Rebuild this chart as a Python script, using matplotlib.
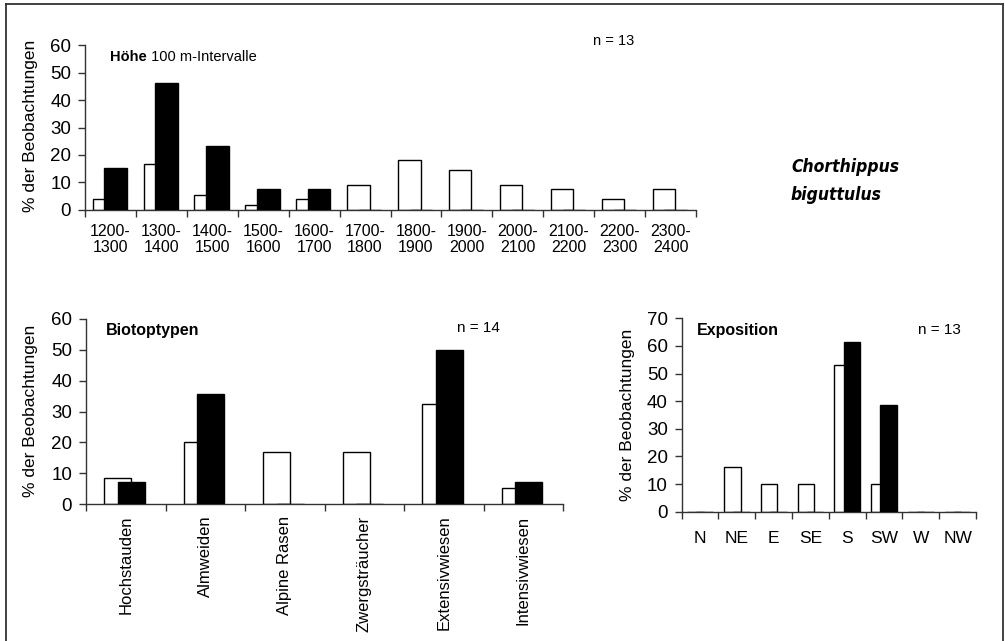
import numpy as np
import matplotlib
matplotlib.use('Agg')
import matplotlib.pyplot as plt
from matplotlib.lines import Line2D
from matplotlib import font_manager

plt.rcParams['font.family'] = ['Liberation Sans', 'DejaVu Sans']

W, H = 1005, 641

# Hoehe (100 m intervals)
hoehe_labels = ['1200-\n1300', '1300-\n1400', '1400-\n1500', '1500-\n1600', '1600-\n1700', '1700-\n1800',
                '1800-\n1900', '1900-\n2000', '2000-\n2100', '2100-\n2200', '2200-\n2300', '2300-\n2400']
hoehe_white = [3.8, 16.6, 5.4, 1.6, 3.8, 9.1, 18.0, 14.4, 9.1, 7.4, 3.8, 7.4]
hoehe_black = [15.4, 46.2, 23.1, 7.7, 7.7, 0, 0, 0, 0, 0, 0, 0]

# Biotoptypen
biotop_labels = ['Hochstauden', 'Almweiden', 'Alpine Rasen', 'Zwergsträucher', 'Extensivwiesen', 'Intensivwiesen']
biotop_white = [8.4, 20.0, 16.8, 16.8, 32.3, 5.2]
biotop_black = [7.1, 35.7, 0, 0, 50.0, 7.1]

# Exposition
expo_labels = ['N', 'NE', 'E', 'SE', 'S', 'SW', 'W', 'NW']
expo_white = [0, 16.3, 10.0, 10.0, 53.0, 10.0, 0, 0]
expo_black = [0, 0, 0, 0, 61.5, 38.5, 0, 0]


def px_axes(x0, y0, x1, y1):
    # pixel box (top-left origin) -> figure fraction rect
    return [x0 / W, 1 - y1 / H, (x1 - x0) / W, (y1 - y0) / H]


def fpos(x, y):
    return x / W, 1 - y / H


def bar_panel(ax, labels, white, black, ymax, width, off_w, off_b, lab_size, pad, rot=0):
    x = np.arange(len(labels))
    ax.bar(x + off_w, white, width, color='white', edgecolor='black', linewidth=1.0, zorder=2)
    ax.bar(x + off_b, black, width, color='black', edgecolor='black', linewidth=1.0, zorder=3)
    ax.set_xlim(-0.5, len(labels) - 0.5)
    ax.set_ylim(0, ymax)
    ax.set_yticks(np.arange(0, ymax + 1, 10))
    ax.set_xticks(x)
    if rot:
        ax.set_xticklabels(labels, rotation=90, va='top', ha='center')
    else:
        ax.set_xticklabels(labels, linespacing=1.1)
    ax.set_xticks(np.arange(len(labels) + 1) - 0.5, minor=True)
    ax.tick_params(axis='x', which='major', length=0, pad=pad, labelsize=lab_size)
    ax.tick_params(axis='x', which='minor', length=5, width=1, direction='out', color='#333333')
    ax.tick_params(axis='y', length=5, width=1, direction='out', pad=5, labelsize=13.5, color='#333333')
    for s in ['top', 'right']:
        ax.spines[s].set_visible(False)
    for s in ['left', 'bottom']:
        ax.spines[s].set_color('#333333')
        ax.spines[s].set_linewidth(1.0)


fig = plt.figure(figsize=(W / 100, H / 100), dpi=100)

ax1 = fig.add_axes(px_axes(85, 45.3, 696, 209.7))
bar_panel(ax1, hoehe_labels, hoehe_white, hoehe_black, 60, 0.44, -0.13, 0.10, 11.5, 10)

ax2 = fig.add_axes(px_axes(86, 318.7, 563, 504.3))
bar_panel(ax2, biotop_labels, biotop_white, biotop_black, 60, 0.34, -0.1, 0.07, 12, 8, rot=90)

ax3 = fig.add_axes(px_axes(681.7, 318.3, 976, 511.7))
bar_panel(ax3, expo_labels, expo_white, expo_black, 70, 0.45, -0.125, 0.125, 12.5, 14)

# y labels
for (cx, cy) in [(30, 125.5), (31, 410.5), (627, 415)]:
    fig.text(*fpos(cx, cy), '% der Beobachtungen', rotation=90, ha='center', va='center', fontsize=12.5)

# panel titles
t = fig.text(*fpos(110, 57), 'Höhe', fontsize=10.5, fontweight='bold', va='center', ha='left')
ax1.annotate(' 100 m-Intervalle', xy=(1, 0), xycoords=t, va='bottom', ha='left', fontsize=10.5)
fig.text(*fpos(593, 41), 'n = 13', fontsize=10.5, va='center', ha='left')

fig.text(*fpos(106, 330), 'Biotoptypen', fontsize=11.5, fontweight='bold', va='center', ha='left')
fig.text(*fpos(457, 328), 'n = 14', fontsize=11, va='center', ha='left')

fig.text(*fpos(697, 330), 'Exposition', fontsize=11.5, fontweight='bold', va='center', ha='left')
fig.text(*fpos(918, 330), 'n = 13', fontsize=11, va='center', ha='left')

# species name: condensed face if one is installed, else smaller regular
names = {f.name for f in font_manager.fontManager.ttflist}
cond = [f for f in font_manager.fontManager.ttflist
        if f.name == 'DejaVu Sans' and f.stretch == 'condensed' and f.weight == 700]
if 'Liberation Sans Narrow' in names:
    sp = dict(family='Liberation Sans Narrow', fontsize=16.5)
elif cond:
    sp = dict(family='DejaVu Sans', stretch='condensed', fontsize=12.5)
else:
    sp = dict(family='Liberation Sans', fontsize=11.5)
fig.text(*fpos(791, 167), 'Chorthippus', fontweight='bold', style='italic', va='center', ha='left', **sp)
fig.text(*fpos(791, 195), 'biguttulus', fontweight='bold', style='italic', va='center', ha='left', **sp)

# outer frame (open at the bottom)
x0, x1 = fpos(5.7, 0)[0], fpos(1002.7, 0)[0]
ytop = fpos(0, 3.5)[1]
for xs, ys in [([x0, x0], [0, ytop]), ([x1, x1], [ytop, 0]), ([x0, x1], [ytop, ytop])]:
    fig.add_artist(Line2D(xs, ys, color='#333333', linewidth=1.3, transform=fig.transFigure))

fig.savefig('out.png', dpi=100)
